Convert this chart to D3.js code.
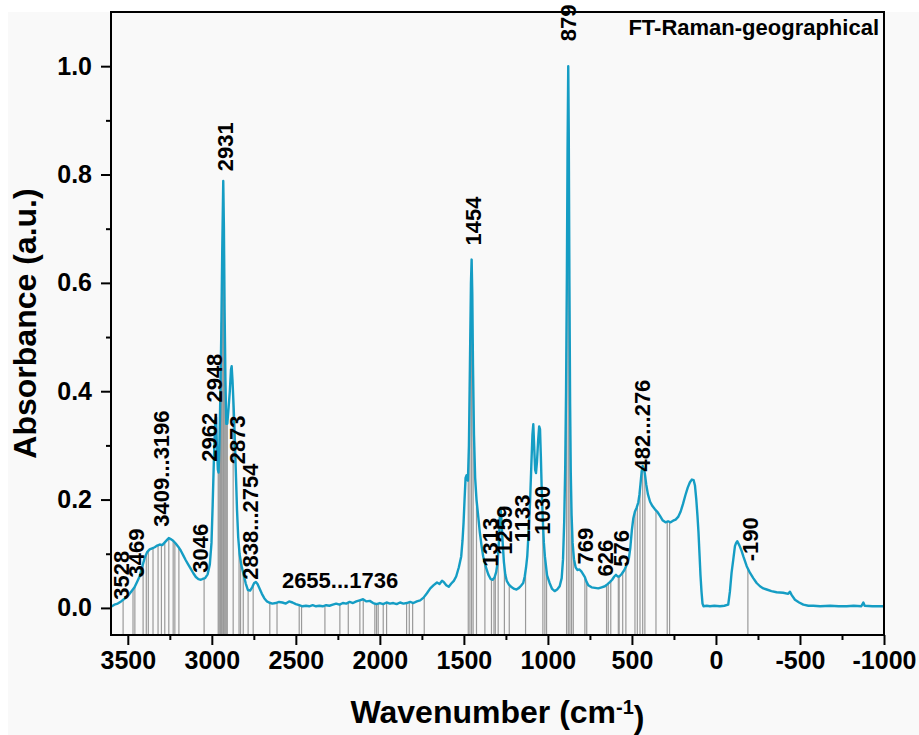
<!DOCTYPE html>
<html>
<head>
<meta charset="utf-8">
<script src="https://cdn.jsdelivr.net/npm/d3@7"></script>
<style>
  body { margin: 0; background: #fff; }
  svg text { font-family: Arial, "Liberation Sans", sans-serif; font-weight: bold; fill: #000; }
</style>
</head>
<body>
<svg id="chart" width="919" height="735"></svg>
<script>
// FT-Raman spectrum, values
const wavenumber = [
  3600, 3580, 3560, 3540, 3520, 3500, 3480, 3460, 3445, 3430, 3415, 3400, 3385, 3370, 3355, 3340,
  3325, 3310, 3295, 3280, 3265, 3256, 3245, 3230, 3215, 3200, 3185, 3170, 3155, 3140, 3125, 3110,
  3095, 3080, 3065, 3050, 3040, 3025, 3012, 3002, 2995, 2988, 2980, 2975, 2970, 2964, 2960, 2955,
  2950, 2944, 2938, 2932, 2928, 2924, 2919, 2914, 2908, 2900, 2893, 2886, 2882, 2877, 2870, 2863,
  2856, 2850, 2843, 2835, 2825, 2812, 2798, 2785, 2772, 2760, 2748, 2738, 2728, 2716, 2702, 2688,
  2672, 2660, 2640, 2620, 2600, 2580, 2560, 2540, 2520, 2500, 2480, 2460, 2440, 2420, 2400, 2380,
  2360, 2340, 2320, 2300, 2280, 2260, 2240, 2220, 2200, 2180, 2160, 2140, 2120, 2100, 2080, 2060,
  2040, 2020, 2000, 1980, 1960, 1940, 1920, 1900, 1880, 1860, 1840, 1820, 1800, 1780, 1760, 1740,
  1720, 1700, 1680, 1660, 1645, 1630, 1620, 1605, 1590, 1575, 1560, 1546, 1530, 1516, 1508, 1502,
  1496, 1490, 1484, 1476, 1470, 1464, 1458, 1454, 1450, 1446, 1440, 1433, 1425, 1415, 1405, 1395,
  1385, 1370, 1355, 1340, 1328, 1318, 1308, 1300, 1292, 1286, 1282, 1277, 1270, 1262, 1254, 1245,
  1232, 1215, 1200, 1187, 1172, 1160, 1147, 1138, 1130, 1123, 1115, 1107, 1099, 1092, 1087, 1082,
  1076, 1071, 1065, 1058, 1052, 1047, 1042, 1037, 1030, 1024, 1018, 1005, 990, 975, 960, 945,
  930, 918, 910, 903, 897, 892, 887, 883, 879, 876, 872, 868, 864, 859, 853, 845,
  835, 825, 812, 800, 790, 780, 770, 760, 740, 720, 700, 680, 661, 645, 630, 618,
  605, 595, 585, 575, 560, 545, 530, 518, 510, 500, 492, 482, 472, 462, 455, 448,
  442, 436, 430, 423, 415, 405, 392, 378, 363, 348, 333, 318, 300, 285, 270, 255,
  240, 225, 210, 196, 182, 168, 155, 143, 133, 125, 117, 110, 104, 98, 92, 86,
  80, 74, 55, 36, 10, -24, -50, -73, -83, -93, -103, -113, -120, -127, -140, -153,
  -163, -183, -202, -222, -242, -262, -282, -302, -330, -361, -400, -430, -440, -450, -470, -495,
  -520, -550, -580, -620, -680, -730, -778, -820, -865, -877, -885, -930, -1000
];
const absorbance = [
  0.002, 0.006, 0.008, 0.012, 0.017, 0.022, 0.030, 0.038, 0.048, 0.058, 0.075, 0.092, 0.103, 0.108, 0.110, 0.112,
  0.115, 0.117, 0.116, 0.121, 0.126, 0.129, 0.127, 0.124, 0.119, 0.113, 0.106, 0.097, 0.088, 0.080, 0.072, 0.064,
  0.057, 0.053, 0.052, 0.054, 0.055, 0.062, 0.080, 0.120, 0.190, 0.270, 0.345, 0.352, 0.300, 0.255, 0.250, 0.300,
  0.380, 0.500, 0.660, 0.788, 0.700, 0.550, 0.420, 0.340, 0.340, 0.370, 0.400, 0.440, 0.446, 0.420, 0.370, 0.310,
  0.240, 0.180, 0.130, 0.100, 0.080, 0.063, 0.045, 0.033, 0.032, 0.038, 0.046, 0.048, 0.044, 0.036, 0.026, 0.018,
  0.012, 0.010, 0.008, 0.009, 0.011, 0.010, 0.008, 0.012, 0.010, 0.007, 0.005, 0.003, 0.004, 0.003, 0.005, 0.003,
  0.004, 0.003, 0.005, 0.004, 0.006, 0.008, 0.006, 0.009, 0.008, 0.011, 0.009, 0.012, 0.014, 0.016, 0.012, 0.013,
  0.009, 0.007, 0.009, 0.007, 0.010, 0.008, 0.009, 0.007, 0.010, 0.008, 0.009, 0.011, 0.009, 0.012, 0.014, 0.019,
  0.027, 0.036, 0.042, 0.047, 0.044, 0.050, 0.048, 0.042, 0.039, 0.045, 0.050, 0.058, 0.075, 0.095, 0.125, 0.157,
  0.200, 0.240, 0.245, 0.235, 0.300, 0.450, 0.600, 0.643, 0.580, 0.450, 0.320, 0.240, 0.200, 0.170, 0.139, 0.115,
  0.095, 0.076, 0.062, 0.053, 0.052, 0.056, 0.066, 0.082, 0.120, 0.170, 0.185, 0.165, 0.125, 0.085, 0.062, 0.050,
  0.043, 0.038, 0.035, 0.034, 0.037, 0.041, 0.046, 0.058, 0.075, 0.095, 0.140, 0.190, 0.260, 0.320, 0.339, 0.300,
  0.255, 0.249, 0.270, 0.310, 0.335, 0.330, 0.280, 0.220, 0.160, 0.120, 0.095, 0.060, 0.046, 0.035, 0.031, 0.034,
  0.040, 0.055, 0.090, 0.160, 0.260, 0.400, 0.620, 0.850, 1.000, 0.880, 0.600, 0.380, 0.250, 0.170, 0.120, 0.090,
  0.075, 0.070, 0.071, 0.067, 0.062, 0.057, 0.048, 0.042, 0.038, 0.037, 0.036, 0.038, 0.040, 0.044, 0.048, 0.052,
  0.058, 0.061, 0.058, 0.058, 0.063, 0.070, 0.080, 0.092, 0.110, 0.145, 0.165, 0.178, 0.185, 0.195, 0.210, 0.232,
  0.252, 0.262, 0.258, 0.248, 0.228, 0.210, 0.196, 0.188, 0.182, 0.177, 0.170, 0.162, 0.158, 0.160, 0.158, 0.161,
  0.163, 0.168, 0.178, 0.192, 0.208, 0.222, 0.232, 0.237, 0.236, 0.226, 0.200, 0.170, 0.140, 0.100, 0.060, 0.030,
  0.008, 0.003, 0.004, 0.003, 0.004, 0.003, 0.004, 0.006, 0.030, 0.065, 0.089, 0.114, 0.120, 0.123, 0.115, 0.105,
  0.095, 0.077, 0.065, 0.055, 0.046, 0.040, 0.036, 0.034, 0.031, 0.029, 0.028, 0.026, 0.030, 0.024, 0.015, 0.010,
  0.006, 0.004, 0.004, 0.003, 0.004, 0.003, 0.003, 0.004, 0.003, 0.010, 0.004, 0.003, 0.003
];

// gray drop lines at the picked peaks
const peakPositions = [
  3528, 3469, 3458, 3409, 3390, 3378, 3350, 3320, 3300, 3280, 3256, 3230, 3220, 3196, 3046,
  2962, 2957, 2952, 2948, 2943, 2938, 2931, 2926, 2920, 2914, 2908, 2873, 2838, 2829, 2813, 2784, 2754,
  2655, 2612, 2480, 2466, 2327, 2238, 2188, 2119, 2099, 2030, 2020, 2010, 1980, 1960, 1841, 1825, 1805, 1736,
  1474, 1464, 1454, 1445, 1425, 1375, 1336, 1321, 1313, 1296, 1259, 1230, 1133, 1030, 1018, 1008,
  889, 879, 869, 859, 849, 780, 769, 651, 641, 626, 581, 576, 555, 536,
  482, 468, 452, 436, 423, 357, 290, 276, -190
];

// peak annotations (text, wavenumber and absorbance where the text starts)
const labelText = ["3528", "3469", "3409...3196", "3046", "2962", "2948", "2931", "2873", "2838...2754",
  "1454", "1313", "1259", "1133", "1030", "879", "769", "626", "576", "482...276", "-190"];
const labelAt = [3542, 3452, 3304, 3071, 3018, 2988, 2923, 2848, 2774,
  1446, 1345, 1259, 1152, 1033, 881, 777, 658, 563, 437, -205];
const labelLevel = [0.015, 0.056, 0.150, 0.065, 0.270, 0.379, 0.806, 0.265, 0.052,
  0.669, 0.076, 0.098, 0.121, 0.135, 1.046, 0.080, 0.058, 0.076, 0.252, 0.086];
const rangeText = "2655...1736", rangeAt = 2583, rangeLevel = 0.037;

const xTicks = [3500, 3000, 2500, 2000, 1500, 1000, 500, 0, -500, -1000];
const yTicks = [0.0, 0.2, 0.4, 0.6, 0.8, 1.0];

const margin = {left: 111, right: 35, top: 12, bottom: 100};
const width = 919, height = 735;

const svg = d3.select("#chart");

svg.append("rect")
    .attr("x", 8).attr("y", 12)
    .attr("width", width - 8).attr("height", height - 12)
    .attr("fill", "#f9f9f9");

const x = d3.scaleLinear()
    .domain([3600, -1000])
    .range([margin.left, width - margin.right]);

const y = d3.scaleLinear()
    .domain([-0.05, 1.1])
    .range([height - margin.bottom, margin.top]);

svg.append("clipPath").attr("id", "plotclip")
    .append("rect")
    .attr("x", margin.left).attr("y", margin.top)
    .attr("width", x.range()[1] - margin.left)
    .attr("height", y.range()[0] - margin.top);

const plot = svg.append("g").attr("clip-path", "url(#plotclip)");

const points = wavenumber.map((w, i) => [w, absorbance[i]]);

// absorbance on the curve at a given wavenumber
const bisect = d3.bisector(d => -d[0]).left;
const valueAt = w => {
    const i = Math.min(Math.max(bisect(points, -w), 1), points.length - 1);
    const a = points[i - 1], b = points[i];
    const t = (w - a[0]) / (b[0] - a[0]);
    return a[1] + t * (b[1] - a[1]);
};

plot.append("g")
    .selectAll("line")
    .data(peakPositions)
    .join("line")
    .attr("x1", d => x(d)).attr("x2", d => x(d))
    .attr("y1", y(-0.05))
    .attr("y2", d => y(valueAt(d)))
    .attr("stroke", "#9a9a9a")
    .attr("stroke-width", 1.2);

plot.append("path")
    .datum(points)
    .attr("fill", "none")
    .attr("stroke", "#159dc4")
    .attr("stroke-width", 2.4)
    .attr("stroke-linejoin", "round")
    .attr("d", d3.line().x(d => x(d[0])).y(d => y(d[1])));

// axes
const xAxis = svg.append("g")
    .attr("transform", `translate(0,${y.range()[0]})`)
    .call(d3.axisBottom(x).tickValues(xTicks).tickFormat(d => String(d)).tickSize(10).tickPadding(6));

svg.append("g")
    .attr("transform", `translate(0,${y.range()[0]})`)
    .call(d3.axisBottom(x).tickValues(d3.range(3250, -1000, -500)).tickFormat("").tickSize(5))
    .call(g => g.select(".domain").remove());

const yAxis = svg.append("g")
    .attr("transform", `translate(${margin.left},0)`)
    .call(d3.axisLeft(y).tickValues(yTicks).tickFormat(d3.format(".1f")).tickSize(10).tickPadding(9));

svg.append("g")
    .attr("transform", `translate(${margin.left},0)`)
    .call(d3.axisLeft(y).tickValues([0.1, 0.3, 0.5, 0.7, 0.9]).tickFormat("").tickSize(5))
    .call(g => g.select(".domain").remove());

svg.selectAll(".tick line").attr("stroke", "#000").attr("stroke-width", 2);
svg.selectAll(".domain").remove();
xAxis.selectAll("text").style("font-size", "25px").attr("fill", "#000");
yAxis.selectAll("text").style("font-size", "25px").attr("fill", "#000");

// frame
svg.append("rect")
    .attr("x", margin.left).attr("y", margin.top)
    .attr("width", x.range()[1] - margin.left)
    .attr("height", y.range()[0] - margin.top)
    .attr("fill", "none")
    .attr("stroke", "#000")
    .attr("stroke-width", 2);

// peak labels
svg.append("g")
    .selectAll("text")
    .data(labelText)
    .join("text")
    .attr("transform", (d, i) => `translate(${x(labelAt[i])},${y(labelLevel[i])}) rotate(-90)`)
    .attr("dy", "0.36em")
    .style("font-size", "22px")
    .text(d => d);

svg.append("text")
    .attr("x", x(rangeAt))
    .attr("y", y(rangeLevel))
    .style("font-size", "22px")
    .text(rangeText);

// titles
svg.append("text")
    .attr("x", 879).attr("y", 35)
    .attr("text-anchor", "end")
    .style("font-size", "22px")
    .text("FT-Raman-geographical");

const xTitle = svg.append("text")
    .attr("x", (margin.left + x.range()[1]) / 2)
    .attr("y", 723)
    .attr("text-anchor", "middle")
    .style("font-size", "32px");
xTitle.append("tspan").text("Wavenumber (cm");
xTitle.append("tspan").attr("dy", "-0.45em").style("font-size", "20px").text("-1");
xTitle.append("tspan").attr("dy", "0.45em").text(")");

svg.append("text")
    .attr("transform", `translate(36,${(margin.top + y.range()[0]) / 2}) rotate(-90)`)
    .attr("text-anchor", "middle")
    .style("font-size", "32px")
    .text("Absorbance (a.u.)");
</script>
</body>
</html>
